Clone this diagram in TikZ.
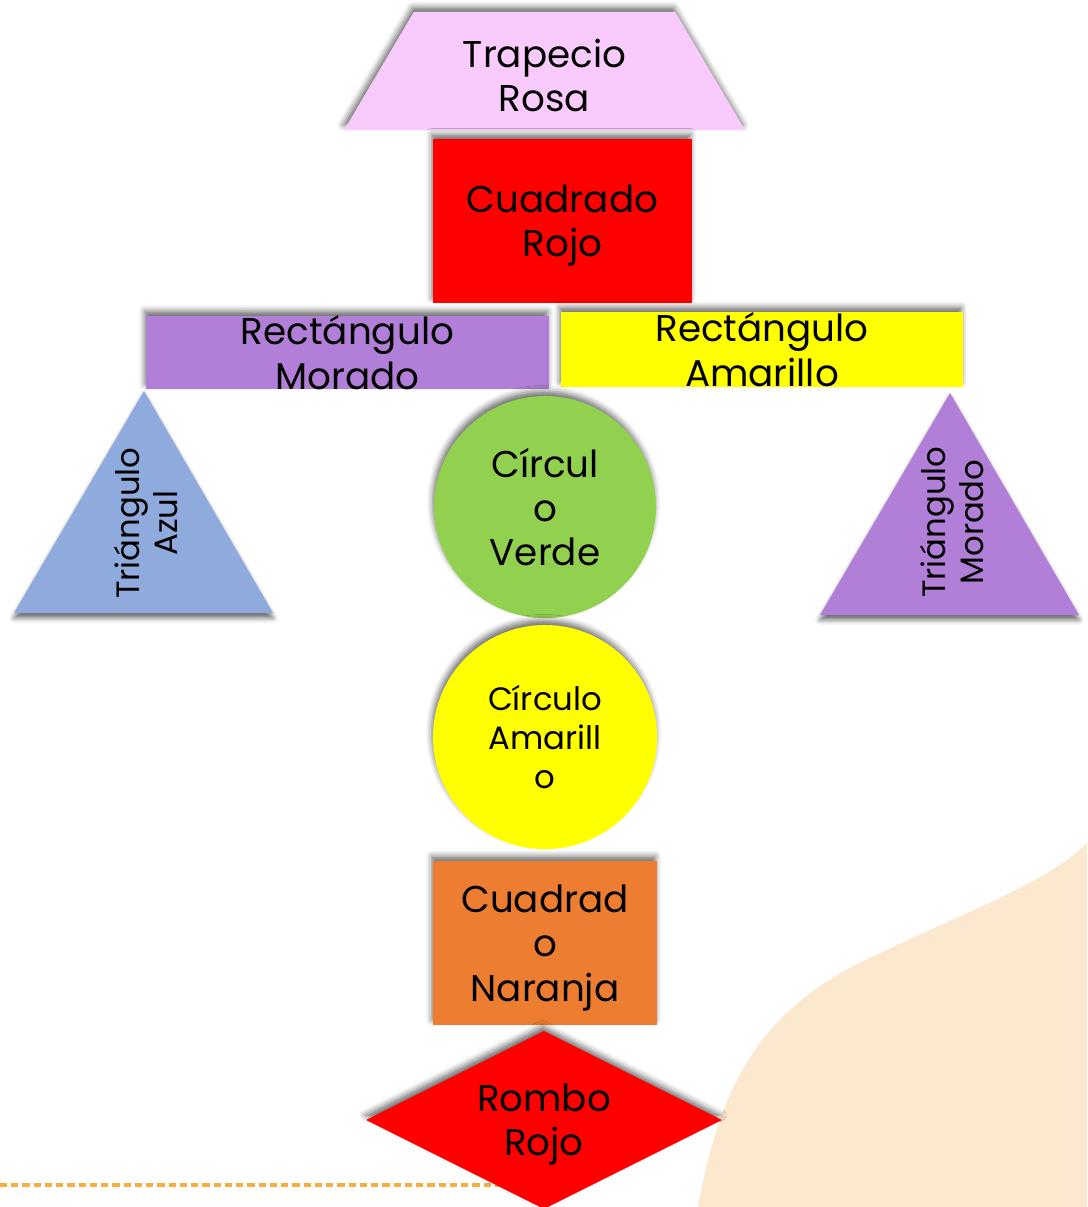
\documentclass[tikz,border=0pt]{standalone}
\usepackage{fontspec}
\setmainfont{Poppins}
\usepackage{xcolor}
\usetikzlibrary{shapes.geometric,shadows.blur}
\definecolor{PinkLight}{HTML}{F9CBFC}
\definecolor{RedPure}{HTML}{FF0000}
\definecolor{PurpleSoft}{HTML}{B17FD7}
\definecolor{YellowPure}{HTML}{FFFF00}
\definecolor{GreenSoft}{HTML}{92D050}
\definecolor{OrangeSoft}{HTML}{ED7D31}
\definecolor{BlueSoft}{HTML}{8FAADC}
\definecolor{CreamBg}{HTML}{FCE8CF}
\definecolor{DashOrange}{HTML}{F7AE3F}
\newcommand{\capstrut}{\rule{0pt}{1.0em}}

\begin{document}
\begin{tikzpicture}[
    x=0.025cm, y=-0.025cm,
    piece/.style={inner sep=0pt, align=center, text=black,
      font=\fontsize{26.5}{31.5}\selectfont},
    shadowup/.style={blur shadow={shadow xshift=-1pt, shadow yshift=3.5pt,
      shadow blur radius=4pt, shadow opacity=55}},
    shadowdown/.style={blur shadow={shadow xshift=0pt, shadow yshift=-3.5pt,
      shadow blur radius=3.5pt, shadow opacity=60}},
    smalltext/.style={font=\fontsize{23}{27.7}\selectfont, align=center}
  ]
    \useasboundingbox (0,0) rectangle (1087,1207);
    % background
    \fill[CreamBg] (698,1207) .. controls (722,1075) and (765,1005) .. (880,953)
      .. controls (980,906) and (1050,880) .. (1087,843) -- (1087,1207) -- cycle;
    \draw[DashOrange, line width=2.2pt, dash pattern=on 5pt off 3pt] (0,1185) -- (545,1185);

    \node[piece, trapezium, trapezium left angle=62, trapezium right angle=62,
      trapezium stretches=true, fill=PinkLight, shadowup,
      minimum width=10.025cm, minimum height=2.95cm] (trapecio) at (544.5,71) {\capstrut Trapecio\\Rosa};
    \node[piece, rectangle, fill=RedPure, shadowup,
      minimum width=6.475cm, minimum height=4.1cm] (rojo) at (562.5,221) {\capstrut Cuadrado\\Rojo};
    \node[piece, rectangle, fill=PurpleSoft, shadowup,
      minimum width=10.075cm, minimum height=1.825cm] (morado) at (347.5,352.5) {Rectángulo\\Morado};
    \node[piece, rectangle, fill=YellowPure, shadowup,
      minimum width=10.05cm, minimum height=1.875cm] (amarillo) at (762,349.5) {Rectángulo\\Amarillo};
    \node[piece, circle, fill=GreenSoft, shadowup,
      minimum size=5.55cm] (verde) at (545,507) {Círcul\\o\\Verde};
    \node[piece, circle, fill=YellowPure, shadowup, smalltext,
      minimum size=5.6cm] (circamar) at (545,737) {Círculo\\Amarill\\o};
    \node[piece, rectangle, fill=OrangeSoft, shadowup,
      minimum width=5.6cm, minimum height=4.1cm] (naranja) at (545,943) {\capstrut Cuadrad\\o\\Naranja};
    \node[piece, diamond, aspect=2, fill=RedPure, shadowup,
      minimum width=8.9cm, minimum height=4.45cm] (rombo) at (544,1120) {\capstrut Rombo\\Rojo};

    % triangles
    \fill[BlueSoft, shadowdown] (144,391) -- (14,613) -- (273,613) -- cycle;
    \node[piece, smalltext, rotate=90] (triazul) at (146,523) {Triángulo\\Azul};
    \fill[PurpleSoft, shadowdown] (950,393) -- (820,615) -- (1079,615) -- cycle;
    \node[piece, smalltext, rotate=90] (trimorado) at (952,522) {Triángulo\\Morado};
  \end{tikzpicture}
\end{document}
